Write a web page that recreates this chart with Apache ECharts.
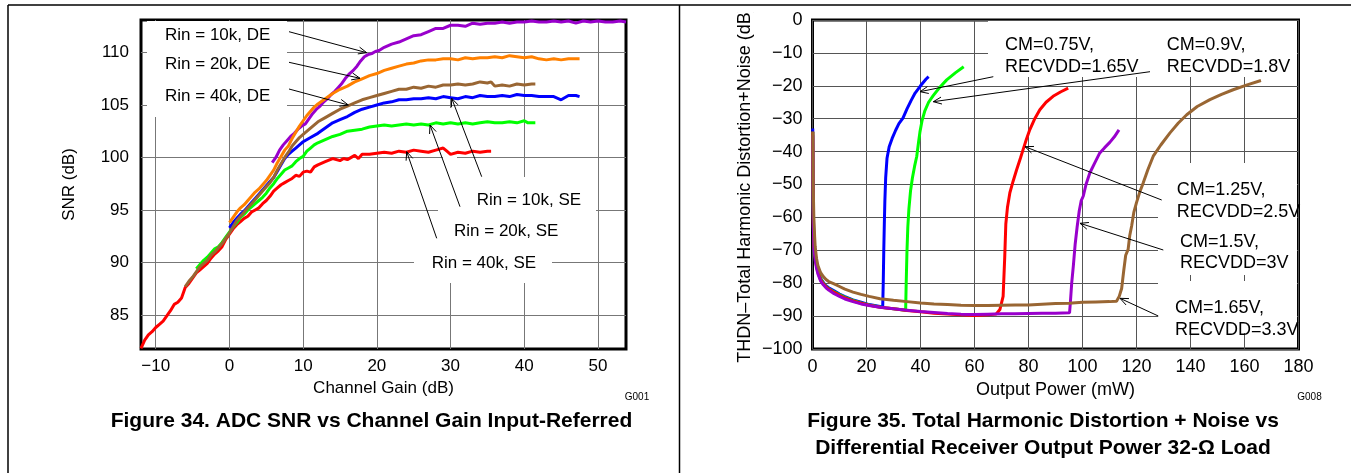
<!DOCTYPE html>
<html>
<head>
<meta charset="utf-8">
<script src="https://cdn.jsdelivr.net/npm/echarts@6.0.0/dist/echarts.min.js"></script>
<style>
  html, body { margin: 0; padding: 0; background: #fff; }
  #chart { width: 1351px; height: 473px; }
</style>
</head>
<body>
<div id="chart"></div>
<script>
// Figure 34 - ADC SNR vs channel gain (x: gain dB, y: SNR dB)
const gainTicks = [-10, 0, 10, 20, 30, 40, 50]
const snrTicks = [85, 90, 95, 100, 105, 110]

const snr40kSE = [[-12,81.8],[-11.5,82.6],[-11,83.1],[-10.5,83.4],[-10,83.8],[-9.5,84.1],[-9,84.4],[-8.5,84.9],[-8,85.4],[-7.5,86.0],[-7,86.2],[-6.5,86.6],[-6,87.6],[-5.5,88.0],[-5,88.5],[-4.5,89.0],[-4,89.3],[-3.5,89.6],[-3,89.9],[-2.5,90.4],[-2,90.8],[-1.5,91.1],[-1,91.5],[-0.5,92.2],[0,92.7],[0.5,93.2],[1,93.6],[1.5,93.9],[2,94.2],[2.5,94.4],[3,94.8],[3.5,95.0],[4,95.2],[4.5,95.6],[5,95.9],[5.5,96.3],[6,96.8],[6.5,97.1],[7,97.4],[7.5,97.6],[8,97.8],[8.5,98.0],[9,98.3],[9.5,98.2],[10,98.6],[10.5,98.7],[11,98.6],[11.5,99.1],[12,99.3],[13,99.6],[14,99.9],[15,99.7],[15.5,99.9],[16,99.8],[17,100.2],[17.5,99.9],[18,100.3],[19,100.3],[20,100.4],[21,100.5],[22,100.4],[23,100.6],[24,100.5],[25,100.7],[26,100.6],[27,100.5],[28,100.7],[29,100.9],[29.5,100.6],[30,100.3],[31,100.5],[32,100.4],[33,100.6],[34,100.5],[35,100.6],[35.5,100.6]]
const snr20kSE = [[-4.5,89.4],[-4,89.8],[-3.5,90.2],[-3,90.5],[-2.5,90.9],[-2,91.3],[-1.5,91.5],[-1,91.9],[-0.5,92.4],[0,92.9],[0.5,93.4],[1,93.8],[1.5,94.3],[2,94.6],[2.5,95.0],[3,95.3],[3.5,95.6],[4,95.9],[4.5,96.2],[5,96.6],[5.5,97.1],[6,97.5],[6.5,98.0],[7,98.4],[7.5,98.8],[8,99.0],[8.5,99.2],[9,99.6],[9.5,99.9],[10,100.1],[10.5,100.6],[11,100.9],[11.5,101.2],[12,101.4],[13,101.7],[14,102.0],[15,102.2],[16,102.5],[17,102.6],[18,102.7],[19,102.9],[20,103.0],[21,103.1],[22,103.0],[23,103.1],[24,103.2],[25,103.1],[26,103.2],[27,103.1],[28,103.3],[29,103.2],[30,103.3],[31,103.2],[32,103.3],[33,103.2],[34,103.3],[35,103.4],[36,103.3],[37,103.3],[38,103.4],[39,103.3],[40,103.5],[40.5,103.3],[41,103.3],[41.5,103.3]]
const snr10kSE = [[0,93.3],[0.5,93.8],[1,94.2],[1.5,94.6],[2,94.9],[2.5,95.3],[3,95.7],[3.5,96.1],[4,96.5],[4.5,96.9],[5,97.3],[5.5,97.7],[6,98.1],[6.5,98.7],[7,99.3],[7.5,99.9],[8,100.3],[8.5,100.6],[9,100.9],[9.5,101.2],[10,101.5],[11,101.9],[12,102.3],[13,102.8],[14,103.3],[15,103.6],[16,103.9],[17,104.3],[18,104.6],[19,104.8],[20,105.0],[21,105.2],[22,105.3],[23,105.5],[24,105.5],[25,105.6],[26,105.6],[27,105.7],[28,105.6],[29,105.8],[30,105.7],[31,105.6],[32,105.8],[33,105.7],[34,105.9],[35,105.8],[36,105.8],[37,105.9],[38,105.8],[39,106.0],[40,105.9],[41,105.9],[42,105.8],[43,105.8],[44,105.8],[45,105.5],[46,105.9],[47,105.9],[47.5,105.8]]
const snr20kDE = [[0,93.8],[0.5,94.3],[1,94.8],[1.5,95.2],[2,95.5],[2.5,95.9],[3,96.3],[3.5,96.7],[4,97.0],[4.5,97.4],[5,97.8],[5.5,98.3],[6,98.8],[6.5,99.5],[7,100.1],[7.5,100.7],[8,101.1],[8.5,101.8],[9,102.4],[9.5,103.0],[10,103.5],[10.5,104.0],[11,104.4],[11.5,104.8],[12,105.1],[13,105.6],[14,106.1],[15,106.5],[16,106.8],[17,107.2],[18,107.5],[19,107.8],[20,108.0],[21,108.3],[22,108.5],[23,108.7],[24,108.9],[25,109.0],[26,109.2],[27,109.3],[28,109.3],[29,109.4],[30,109.4],[31,109.3],[32,109.5],[33,109.4],[34,109.5],[35,109.5],[36,109.6],[37,109.5],[38,109.7],[39,109.6],[40,109.5],[41,109.6],[42,109.4],[43,109.3],[44,109.4],[45,109.3],[46,109.4],[47,109.4],[47.5,109.4]]
const snr10kDE = [[5.8,99.5],[6.3,100.0],[6.8,100.7],[7.3,101.2],[7.8,101.6],[8.3,102.0],[8.8,102.3],[9.3,102.7],[9.8,103.0],[10.3,103.2],[10.8,103.7],[11.3,104.2],[11.8,104.6],[12.3,104.9],[12.8,105.3],[13.3,105.6],[13.8,106.0],[14.3,106.3],[14.8,106.7],[15.3,107.1],[15.8,107.6],[16.3,108.0],[16.8,108.3],[17.3,108.7],[17.8,109.2],[18.3,109.6],[18.8,109.8],[19.3,109.9],[19.8,110.1],[20.3,110.2],[21,110.5],[22,110.8],[23,111.0],[24,111.3],[25,111.6],[26,111.7],[27,112.0],[28,112.3],[29,112.3],[30,112.6],[31,112.6],[32,112.5],[33,112.8],[34,112.7],[35,112.8],[36,112.8],[37,112.9],[38,112.8],[39,112.9],[40,112.9],[41,113.0],[42,112.9],[43,112.9],[44,113.0],[45,112.9],[46,113.0],[47,112.8],[48,113.0],[49,112.9],[50,113.0],[51,112.9],[52,112.9],[53,113.0],[53.8,112.9]]
const snr40kDE = [[-6,87.7],[-5.5,88.2],[-5,88.6],[-4.5,89.1],[-4,89.6],[-3.5,89.9],[-3,90.2],[-2.5,90.7],[-2,91.0],[-1.5,91.4],[-1,91.8],[-0.5,92.3],[0,92.8],[0.5,93.4],[1,94.0],[1.5,94.4],[2,94.8],[2.5,95.2],[3,95.6],[3.5,96.0],[4,96.4],[4.5,96.8],[5,97.2],[5.5,97.6],[6,98.1],[6.5,98.8],[7,99.4],[7.5,100.0],[8,100.5],[8.5,101.1],[9,101.5],[9.5,101.9],[10,102.2],[11,102.8],[12,103.4],[13,103.8],[14,104.2],[15,104.6],[16,104.9],[17,105.2],[18,105.5],[19,105.7],[20,105.9],[21,106.1],[22,106.3],[23,106.5],[24,106.5],[25,106.7],[26,106.6],[27,106.8],[28,106.7],[29,106.9],[30,106.9],[31,107.0],[32,106.9],[33,107.0],[34,107.2],[35,107.1],[35.5,107.2],[36,106.8],[37,106.9],[38,106.8],[39,107.0],[40,106.9],[41,107.0],[41.5,107.0]]

// Figure 35 - THD+N vs output power (x: mW, y: dB)
const cm075 = [[0.1,-33],[0.2,-55],[0.5,-66],[1,-71],[1.5,-74],[2,-76],[3,-78.5],[4,-79.8],[5,-80.8],[6,-81.4],[8,-82.3],[10,-83.3],[12,-84.1],[15,-85.1],[18,-85.8],[21,-86.5],[24,-86.9],[26,-87.2],[26.2,-80],[26.4,-70],[26.6,-62],[26.8,-55],[27.1,-48],[27.6,-42],[28.4,-38.5],[29.5,-36],[30.8,-33.5],[32,-31.5],[33.5,-29.8],[35,-27],[36.5,-24.5],[38,-22.2],[40,-20],[42,-18],[43,-17.2]]
const cm090 = [[0.1,-34],[0.2,-56],[0.5,-67],[1,-71.5],[1.5,-74.5],[2,-76.3],[3,-78.7],[4,-80],[5,-81],[6,-81.7],[8,-82.6],[10,-83.5],[12,-84.3],[15,-85.2],[18,-86],[21,-86.6],[24,-87.1],[27,-87.5],[30,-87.8],[33,-88.1],[34.5,-88.2],[34.7,-80],[35,-70],[35.3,-63],[35.7,-57.5],[36.3,-52],[37,-48],[37.8,-44.5],[38.6,-41.5],[39.3,-37],[39.8,-34],[40.6,-30.5],[41.6,-27.6],[43,-25],[44.7,-23],[47,-20.6],[49.7,-18.2],[53,-16],[56,-14.2]]
const cm125 = [[0.1,-34],[0.3,-62],[0.6,-69],[1,-72],[1.5,-75],[2,-76.7],[3,-79],[4,-80.2],[5,-81.1],[6,-81.8],[8,-82.8],[10,-83.7],[12,-84.5],[15,-85.4],[18,-86.1],[21,-86.7],[25,-87.3],[30,-87.8],[35,-88.3],[40,-88.7],[45,-89.1],[50,-89.4],[55,-89.6],[60,-89.8],[65,-89.6],[68,-89.4],[69.4,-88],[70.6,-84],[71.2,-72],[71.6,-62],[72.2,-57],[73.1,-52.5],[74.3,-49],[75.6,-45.5],[77,-42],[78,-39.4],[79.2,-36.3],[80.5,-33.3],[82.2,-30.2],[84.2,-27.3],[86.5,-25],[89.1,-23.2],[92,-21.8],[94.7,-20.7]]
const cm150 = [[0.1,-35],[0.3,-63],[0.6,-70],[1,-73],[1.5,-75.5],[2,-77.2],[3,-79.3],[4,-80.5],[5,-81.4],[6,-82.1],[8,-83.2],[10,-84],[12,-84.8],[15,-85.6],[18,-86.3],[21,-86.8],[25,-87.3],[30,-87.8],[35,-88.2],[40,-88.6],[45,-88.9],[50,-89.2],[55,-89.4],[60,-89.5],[65,-89.4],[70,-89.3],[75,-89.3],[80,-89.2],[85,-89.1],[90,-89.1],[95.2,-89],[95.5,-86],[96,-80],[96.6,-74.8],[97.3,-68],[98,-63],[98.8,-58],[99.5,-55],[100.3,-53.5],[101.3,-50],[102.7,-46.5],[104.5,-43.5],[106.4,-40.4],[108.2,-38.8],[110.1,-37.2],[111.8,-35.5],[113.5,-33.4]]
const cm165 = [[0.1,-34],[0.3,-52],[0.5,-60],[0.8,-66],[1,-69],[1.5,-72.5],[2,-74.6],[3,-76.8],[4,-78],[5,-78.9],[6,-79.5],[8,-80.2],[10,-81],[12,-81.8],[15,-82.7],[18,-83.4],[21,-84],[25,-84.7],[30,-85.2],[35,-85.6],[40,-86],[45,-86.3],[50,-86.5],[55,-86.7],[60,-86.8],[65,-86.8],[70,-86.7],[75,-86.6],[80,-86.6],[85,-86.4],[90,-86.2],[95,-86.1],[100,-85.8],[105,-85.7],[110,-85.6],[112.6,-85.5],[113.6,-84],[114.5,-81.6],[115.3,-76],[116,-71.5],[116.9,-69.7],[117.5,-65.5],[118.2,-62.6],[119,-58.5],[120,-55.5],[121.2,-52.3],[122.5,-49.5],[124.2,-45.5],[126.2,-41.4],[129,-38],[132.4,-34.3],[135.5,-31.3],[138.6,-28.8],[142.5,-26.3],[147.2,-24.2],[151.5,-22.6],[155.8,-21.2],[161,-19.7],[166.1,-18.4]]

const FONT = '"Liberation Sans", Arial, sans-serif'
const chart = echarts.init(document.getElementById('chart'))

const neg = v => v < 0 ? '\u2212' + Math.abs(v) : String(v)

function line(data, color, xi) {
  return {
    type: 'line', data: data, xAxisIndex: xi, yAxisIndex: xi,
    showSymbol: false, symbol: 'none', clip: true, silent: true,
    lineStyle: { color: color, width: 3 }, itemStyle: { color: color }
  }
}

// 注释文字
function label(text, x, y, size) {
  return { type: 'text', x: x, y: y, z: 10,
    style: { text: text, font: size + 'px ' + FONT, fill: '#000', verticalAlign: 'middle' } }
}
function mask(x, y, w, h) {
  return { type: 'rect', z: 1, shape: { x: x, y: y, width: w, height: h },
    style: { fill: '#fff' }, silent: true }
}
// 箭头: 从 (x1,y1) 指向 (x2,y2)
function arrow(x1, y1, x2, y2) {
  const a = Math.atan2(y1 - y2, x1 - x2), L = 9, s = 0.4
  const st = { stroke: '#000', lineWidth: 1 }
  return [
    { type: 'line', z: 10, shape: { x1: x1, y1: y1, x2: x2, y2: y2 }, style: st },
    { type: 'polyline', z: 10, shape: { points: [
      [x2 + L * Math.cos(a + s), y2 + L * Math.sin(a + s)], [x2, y2],
      [x2 + L * Math.cos(a - s), y2 + L * Math.sin(a - s)]] }, style: st }
  ]
}

const axisText = { color: '#000', fontFamily: FONT }

const graphics = [
  // 外框
  { type: 'line', z: 30, shape: { x1: 8, y1: 5, x2: 1351, y2: 5 }, style: { stroke: '#000', lineWidth: 1.5 } },
  { type: 'line', z: 30, shape: { x1: 8, y1: 5, x2: 8, y2: 473 }, style: { stroke: '#000', lineWidth: 1.5 } },
  { type: 'line', z: 30, shape: { x1: 679.5, y1: 5, x2: 679.5, y2: 473 }, style: { stroke: '#000', lineWidth: 1.5 } },
  // y 轴标题被截断
  { type: 'rect', z: 25, shape: { x: 730, y: 6, width: 30, height: 6 }, style: { fill: '#fff' } },
  // 白色标签底
  mask(147, 21, 140, 96), mask(438, 177, 158, 45), mask(440, 222, 135, 28), mask(414, 250, 138, 33), mask(443, 108, 14, 69),
  mask(988, 21, 309, 56), mask(1158, 163, 139, 112), mask(1158, 281, 139, 52),
  label('Rin = 10k, DE', 165, 35, 17), label('Rin = 20k, DE', 165, 64.3, 17), label('Rin = 40k, DE', 165, 96, 17),
  label('Rin = 10k, SE', 476.7, 200, 17), label('Rin = 20k, SE', 454, 231.7, 17), label('Rin = 40k, SE', 431.7, 263.3, 17),
  ...arrow(289, 31.7, 366.7, 52.7), ...arrow(289, 62.3, 360, 78.3), ...arrow(289, 89, 348.3, 105),
  ...arrow(481.7, 176.7, 451.7, 98.3), ...arrow(460, 206.7, 430, 125), ...arrow(436.7, 238.3, 406.7, 151.7),
  label('CM=0.75V,', 1005, 45, 18), label('RECVDD=1.65V', 1005, 66.7, 18),
  label('CM=0.9V,', 1166.7, 45, 18), label('RECVDD=1.8V', 1166.7, 66.7, 18),
  label('CM=1.25V,', 1176.7, 190, 18), label('RECVDD=2.5V', 1176.7, 211.7, 18),
  label('CM=1.5V,', 1180, 241.7, 18), label('RECVDD=3V', 1180, 263.3, 18),
  label('CM=1.65V,', 1175, 308.3, 18), label('RECVDD=3.3V', 1175, 330, 18),
  ...arrow(993.3, 76.7, 920, 91.7), ...arrow(1150, 71.7, 933.3, 101.7),
  ...arrow(1161.7, 200, 1025, 146.7), ...arrow(1163.3, 250, 1080, 223.3), ...arrow(1158.3, 316, 1120, 298.3),
  // 图号与标题
  { type: 'text', x: 637, y: 397, z: 10, style: { text: 'G001', font: '10px ' + FONT, fill: '#000', align: 'center', verticalAlign: 'middle' } },
  { type: 'text', x: 1309.5, y: 397, z: 10, style: { text: 'G008', font: '10px ' + FONT, fill: '#000', align: 'center', verticalAlign: 'middle' } },
  { type: 'text', x: 371.5, y: 421.7, z: 10, style: { text: 'Figure 34. ADC SNR vs Channel Gain Input-Referred', font: 'bold 21px ' + FONT, fill: '#000', align: 'center', verticalAlign: 'middle' } },
  { type: 'text', x: 1043, y: 421.7, z: 10, style: { text: 'Figure 35. Total Harmonic Distortion + Noise vs', font: 'bold 21px ' + FONT, fill: '#000', align: 'center', verticalAlign: 'middle' } },
  { type: 'text', x: 1043, y: 448.3, z: 10, style: { text: 'Differential Receiver Output Power 32-\u03a9 Load', font: 'bold 21px ' + FONT, fill: '#000', align: 'center', verticalAlign: 'middle' } }
]

chart.setOption({
  animation: false,
  backgroundColor: '#fff',
  grid: [
    { left: 141, top: 20, width: 485, height: 329, show: true, borderColor: '#000', borderWidth: 3, backgroundColor: 'transparent' },
    { left: 812.5, top: 20, width: 486, height: 329, show: true, borderColor: '#000', borderWidth: 3, backgroundColor: 'transparent' }
  ],
  xAxis: [
    {
      gridIndex: 0, type: 'value', min: -12, max: 53.8,
      name: 'Channel Gain (dB)', nameLocation: 'middle', nameGap: 30,
      nameTextStyle: { ...axisText, fontSize: 17 },
      axisLine: { show: false },
      axisTick: { show: false, customValues: gainTicks },
      axisLabel: { customValues: gainTicks, formatter: neg, fontSize: 17, margin: 9, ...axisText },
      splitLine: { show: true, lineStyle: { color: '#777', width: 1 } }
    },
    {
      gridIndex: 1, type: 'value', min: 0, max: 180, interval: 20,
      name: 'Output Power (mW)', nameLocation: 'middle', nameGap: 30,
      nameTextStyle: { ...axisText, fontSize: 18 },
      axisLine: { show: false }, axisTick: { show: false },
      axisLabel: { formatter: neg, fontSize: 18, margin: 9, ...axisText },
      splitLine: { show: true, lineStyle: { color: '#555', width: 1 } }
    }
  ],
  yAxis: [
    {
      gridIndex: 0, type: 'value', min: 81.75, max: 113.1,
      name: 'SNR (dB)', nameLocation: 'middle', nameGap: 63,
      nameTextStyle: { ...axisText, fontSize: 17 },
      axisLine: { show: false },
      axisTick: { show: false, customValues: snrTicks },
      axisLabel: { customValues: snrTicks, formatter: neg, fontSize: 17, margin: 12, ...axisText },
      splitLine: { show: true, lineStyle: { color: '#777', width: 1 } }
    },
    {
      gridIndex: 1, type: 'value', min: -100, max: 0, interval: 10,
      name: 'THDN\u2013Total Harmonic Distortion+Noise (dB)', nameLocation: 'middle', nameGap: 58,
      nameTextStyle: { ...axisText, fontSize: 18 },
      axisLine: { show: false }, axisTick: { show: false },
      axisLabel: { formatter: neg, fontSize: 18, margin: 10, ...axisText },
      splitLine: { show: true, lineStyle: { color: '#555', width: 1 } }
    }
  ],
  series: [
    line(snr40kSE, '#ff0000', 0),
    line(snr20kSE, '#00ff00', 0),
    line(snr10kSE, '#0000ff', 0),
    line(snr10kDE, '#9900cc', 0),
    line(snr20kDE, '#ff8000', 0),
    line(snr40kDE, '#996633', 0),
    line(cm075, '#0000ff', 1),
    line(cm090, '#00ff00', 1),
    line(cm125, '#ff0000', 1),
    line(cm150, '#9900cc', 1),
    line(cm165, '#996633', 1)
  ],
  graphic: graphics
})
</script>
</body>
</html>
